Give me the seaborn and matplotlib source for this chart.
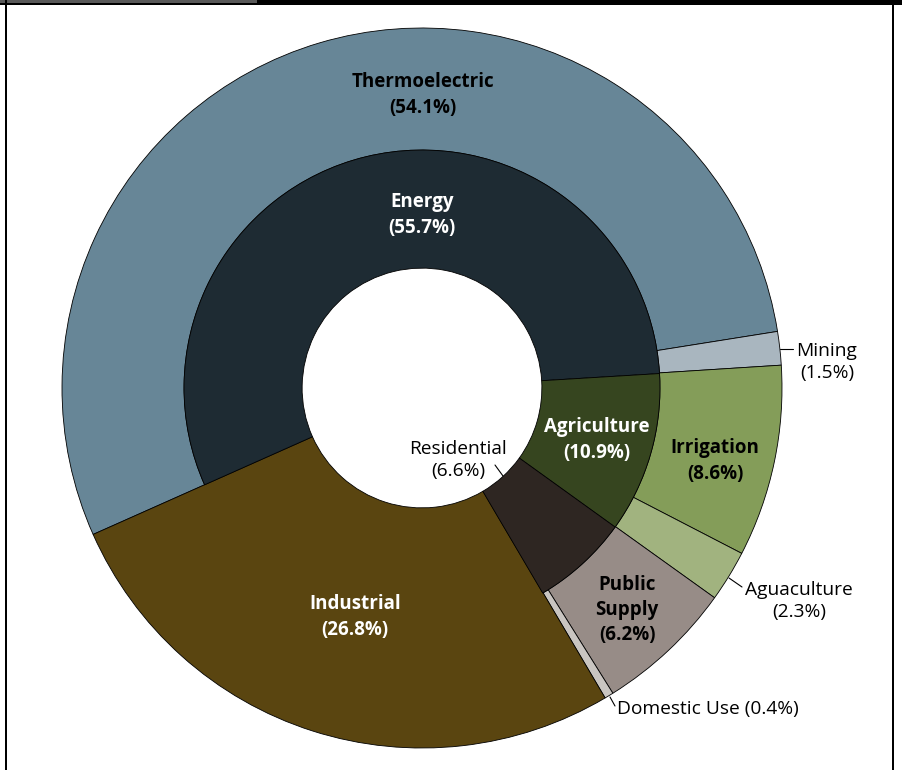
import matplotlib
matplotlib.use("Agg")
import matplotlib.pyplot as plt
import seaborn as sns
from matplotlib.patches import Rectangle
from matplotlib.lines import Line2D

# ---------------- data ----------------
outer_labels = ["Thermoelectric", "Mining", "Irrigation", "Aguaculture",
                "Public Supply", "Domestic Use", "Industrial"]
outer_values = [54.1, 1.5, 8.6, 2.3, 6.2, 0.4, 26.8]
outer_colors = ["#678697", "#a9b6bf", "#849d59", "#a1b37f",
                "#978c87", "#c9c5c1", "#5a4510"]

inner_labels = ["Energy", "Agriculture", "Residential", "Industrial"]
inner_values = [55.7, 10.9, 6.6, 26.8]
inner_colors = ["#1e2b33", "#36451f", "#2e2622", "#5a4510"]

sns.set_theme(style="white")
plt.rcParams['font.family'] = ['Open Sans', 'DejaVu Sans']

W, H = 903, 770
fig = plt.figure(figsize=(W / 100, H / 100), dpi=100)
fig.patch.set_facecolor("white")

# centre (422, 388) px, radius 360 px
cx, cy, R = 422, 388, 360
ax = fig.add_axes([(cx - R) / W, (H - cy - R) / H, 2 * R / W, 2 * R / H])
ax.set_xlim(-1, 1)
ax.set_ylim(-1, 1)
ax.set_aspect("equal")
ax.axis("off")

start = 204
edge = dict(edgecolor="black", linewidth=0.6)
r_in, r_mid = 0.333, 0.661

w_out, _ = ax.pie(outer_values, radius=1.0, colors=outer_colors,
                  startangle=start, counterclock=False,
                  wedgeprops=dict(width=1 - r_mid, **edge))
w_in, _ = ax.pie(inner_values, radius=r_mid, colors=inner_colors,
                 startangle=start, counterclock=False,
                 wedgeprops=dict(width=r_mid - r_in, **edge))
# Industrial spans both rings as one wedge
w_out[outer_labels.index("Industrial")].set_width(1 - r_in)
w_in[inner_labels.index("Industrial")].set_visible(False)
ax.set_xlim(-1, 1)
ax.set_ylim(-1, 1)


def px(x, y):
    return ((x - cx) / R, (cy - y) / R)


def fmt(name, v):
    return f"{name}\n({v}%)"


bold = dict(fontsize=13.5, fontweight="bold", ha="center", va="center",
            linespacing=1.36)
reg = dict(fontsize=13.8, ha="center", va="center", linespacing=1.3)

ov = dict(zip(outer_labels, outer_values))
iv = dict(zip(inner_labels, inner_values))

ax.text(*px(423, 95), fmt("Thermoelectric", ov["Thermoelectric"]), color="black", **bold)
ax.text(*px(422, 215), fmt("Energy", iv["Energy"]), color="white", **bold)
ax.text(*px(355, 617), fmt("Industrial", ov["Industrial"]), color="white", **bold)
ax.text(*px(597, 440), fmt("Agriculture", iv["Agriculture"]), color="white", **bold)
ax.text(*px(715, 461), fmt("Irrigation", ov["Irrigation"]), color="black", **bold)
ax.text(*px(627, 610), fmt("Public\nSupply", ov["Public Supply"]), color="black", **bold)

ax.text(*px(458, 460), fmt("Residential", iv["Residential"]), color="black", **reg)
ax.text(*px(827, 362), fmt("Mining", ov["Mining"]), color="black", **reg)
ax.text(*px(799, 601), fmt("Aguaculture", ov["Aguaculture"]), color="black", **reg)
ax.text(*px(617, 709), f"Domestic Use ({ov['Domestic Use']}%)", color="black",
        fontsize=13.8, ha="left", va="center")

leaders = [((495, 465), (503, 476)), ((780, 349), (793, 349)),
           ((729, 578), (742, 587)), ((610, 697), (615, 706))]
for a, b in leaders:
    (x0, y0), (x1, y1) = px(*a), px(*b)
    ax.add_line(Line2D([x0, x1], [y0, y1], color="black", linewidth=0.8,
                       clip_on=False))

# frame decorations
fig.add_artist(Rectangle((0, 1 - 5 / H), 1, 5 / H, transform=fig.transFigure,
                         facecolor="black", edgecolor="none"))
fig.add_artist(Rectangle((0, 1 - 3 / H), 257 / W, 3 / H, transform=fig.transFigure,
                         facecolor="#595959", edgecolor="none"))
fig.add_artist(Rectangle((5 / W, 0), 2 / W, 1, transform=fig.transFigure,
                         facecolor="black", edgecolor="none"))
fig.add_artist(Rectangle((892 / W, 0), 2 / W, 1, transform=fig.transFigure,
                         facecolor="black", edgecolor="none"))

fig.savefig("out.png", dpi=100)
